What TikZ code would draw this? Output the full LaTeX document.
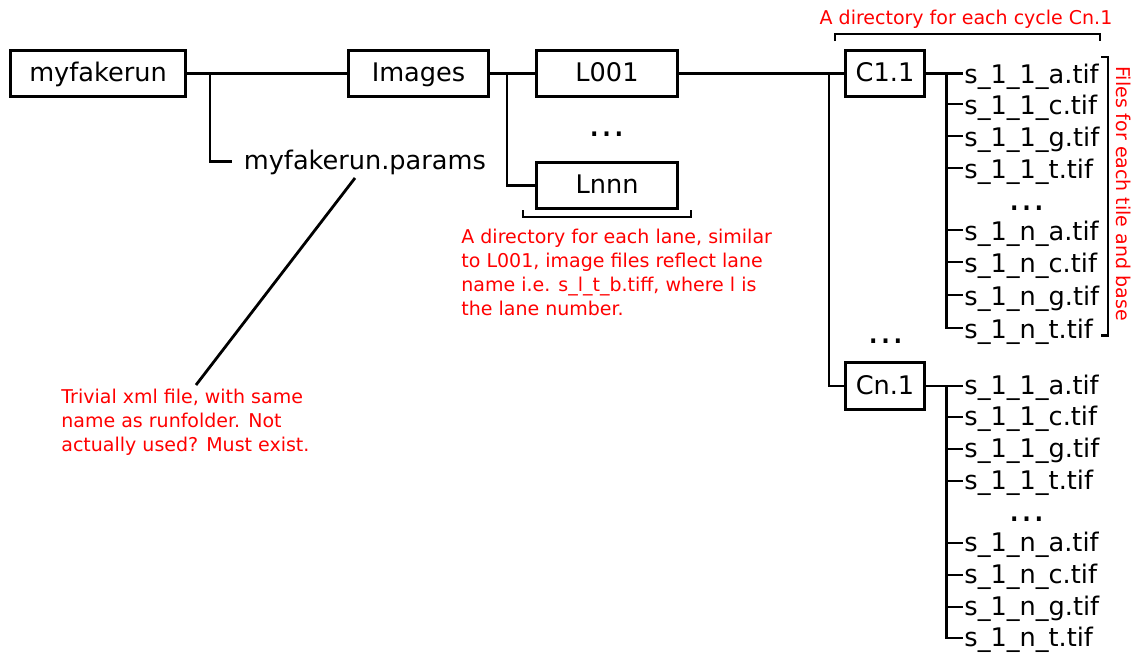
\documentclass[tikz,border=0pt]{standalone}
\usepackage{fontspec}
\setmainfont{DejaVu Sans}
\newcommand\namefont{\fontsize{25.6}{30}\selectfont}
\newcommand\notefont{\fontsize{19}{24}\selectfont}
\newcommand\gapfont{\fontsize{37}{40}\selectfont}
\definecolor{notered}{RGB}{255,0,0}
\begin{document}
\begin{tikzpicture}[x=1pt,y=-1pt,line width=2.8pt,
  dirbox/.style={draw,inner sep=0pt,minimum height=46.5pt,font=\namefont,text height=16pt,text depth=0pt},
  filename/.style={anchor=west,inner sep=0pt,font=\namefont,text height=20pt,text depth=0pt},
  gap/.style={anchor=base,inner sep=0pt,font=\gapfont,text height=6pt,text depth=0pt},
  note/.style={text=notered,inner sep=0pt,font=\notefont}]
\useasboundingbox (0,0) rectangle (1139,653);

% directory boxes
\node[dirbox,minimum width=175.4pt] (run) at (98,73.5) {myfakerun};
\node[dirbox,minimum width=140.4pt] (img) at (418.5,73.5) {Images};
\node[dirbox,minimum width=141.4pt] (l1) at (607,73.5) {L001};
\node[dirbox,minimum width=141.4pt] (ln) at (607,185.5) {Lnnn};
\node[dirbox,minimum width=79.4pt] (c1) at (885,73.5) {C1.1};
\node[dirbox,minimum width=79.4pt] (cn) at (885,386) {Cn.1};
\node[filename,text height=16pt,inner xsep=10.5pt] (par) at (232,161.5) {myfakerun.params};

% image files of the first cycle
\foreach \nm/\tx/\yy in {f1a/s\_1\_1\_a.tif/73.5, f1b/s\_1\_1\_c.tif/104, f1c/s\_1\_1\_g.tif/136,
    f1d/s\_1\_1\_t.tif/168, f1e/s\_1\_n\_a.tif/230, f1f/s\_1\_n\_c.tif/262,
    f1g/s\_1\_n\_g.tif/295, f1h/s\_1\_n\_t.tif/328}
  \node[filename] (\nm) at (963,\yy) {\tx};
% image files of the last cycle
\foreach \nm/\tx/\yy in {f2a/s\_1\_1\_a.tif/386, f2b/s\_1\_1\_c.tif/417, f2c/s\_1\_1\_g.tif/449,
    f2d/s\_1\_1\_t.tif/481, f2e/s\_1\_n\_a.tif/543, f2f/s\_1\_n\_c.tif/575,
    f2g/s\_1\_n\_g.tif/607, f2h/s\_1\_n\_t.tif/638}
  \node[filename,text height=17pt] (\nm) at (963,\yy) {\tx};

% elided entries
\node[gap] (ldots) at (607,136) {…};
\node[gap] (cdots) at (886,343) {…};
\node[gap] (f1dots) at (1027,210) {…};
\node[gap] (f2dots) at (1027,521) {…};

% tree junctions
\coordinate (j1) at (210,73.5);
\coordinate (j2) at (507,73.5);
\coordinate (j3) at (829,73.5);
\coordinate (t1) at (946.5,73.5);
\coordinate (t2) at (946.5,386);

% tree connectors
\draw (run.east) -- (img.west);
\draw (j1) |- (par.west);
\draw (img.east) -- (l1.west);
\draw (j2) |- (ln.west);
\draw (l1.east) -- (c1.west);
\draw (j3) |- (cn.west);
\draw (c1.east) -- (f1a.west);
\draw (t1) |- (f1h.west);
\foreach \nm in {f1b,f1c,f1d,f1e,f1f,f1g} \draw (t1 |- \nm.west) -- (\nm.west);
\draw (cn.east) -- (f2a.west);
\draw (t2) |- (f2h.west);
\foreach \nm in {f2b,f2c,f2d,f2e,f2f,f2g} \draw (t2 |- \nm.west) -- (\nm.west);

% annotations
\node[note,anchor=base] (cyclenote) at (966,24) {A directory for each cycle Cn.1};
\node[note,anchor=north west,align=left] (lanenote) at (460,227.5)
  {A directory for each lane, similar\\to L001, image files reflect lane\\name i.e. s\_l\_t\_b.tiff, where l is\\the lane number.};
\node[note,anchor=north west,align=left] (xmlnote) at (60,387.5)
  {Trivial xml file, with same\\name as runfolder. Not\\actually used? Must exist.};
\node[note,rotate=-90] (filenote) at (1124,193.5) {Files for each tile and base};

% pointer from the params file to its note
\coordinate (ptrA) at (355,178);
\coordinate (ptrB) at (196,385);
\draw (ptrA) -- (ptrB);

% brackets
\draw (835,41) -- (835,34) -- (1100,34) -- (1100,41);
\draw (523,210) -- (523,217) -- (691,217) -- (691,210);
\draw (1101,57) -- (1108,57) -- (1108,335.5) -- (1101,335.5);
\end{tikzpicture}
\end{document}
